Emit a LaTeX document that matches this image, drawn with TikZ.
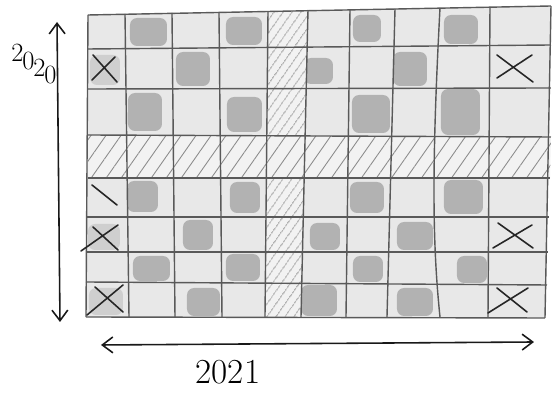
\documentclass[tikz,border=0pt]{standalone}
\usepackage{tikz}
\usetikzlibrary{arrows.meta,patterns.meta}
\begin{document}
\begin{tikzpicture}[x=0.02cm,y=-0.02cm,
  gridline/.style={black!65,line width=0.8pt},
  blob/.style={fill=black!30,rounded corners=4pt},
  paleblob/.style={fill=black!19,rounded corners=4pt},
  cross/.style={black!85,line width=0.9pt,line cap=round},
  axis/.style={black!90,line width=0.9pt,arrows={Straight Barb[length=6pt,width=9pt]-Straight Barb[length=6pt,width=9pt]}},
  every node/.style={font=\fontsize{20}{22}\selectfont}]
\useasboundingbox (0,0) rectangle (556,394);
\fill[black!9] (88,15) -- (551,6) -- (545,318) -- (86,317) -- cycle;
\fill[blob] (130,18) rectangle (167,46);
\fill[blob] (226,17) rectangle (262,45);
\fill[blob] (353,15) rectangle (381,42);
\fill[blob] (444,15) rectangle (478,44);
\fill[paleblob] (90,55) rectangle (120,85);
\fill[blob] (176,52) rectangle (210,86);
\fill[blob] (304,58) rectangle (333,84);
\fill[blob] (393,52) rectangle (427,86);
\fill[blob] (128,93) rectangle (162,131);
\fill[blob] (227,97) rectangle (262,132);
\fill[blob] (352,95) rectangle (390,133);
\fill[blob] (441,89) rectangle (480,135);
\fill[blob] (127,181) rectangle (158,212);
\fill[blob] (230,182) rectangle (260,213);
\fill[blob] (350,182) rectangle (384,213);
\fill[blob] (444,180) rectangle (483,214);
\fill[paleblob] (88,224) rectangle (120,250);
\fill[blob] (183,220) rectangle (213,250);
\fill[blob] (310,223) rectangle (340,250);
\fill[blob] (397,222) rectangle (433,250);
\fill[blob] (133,256) rectangle (170,281);
\fill[blob] (226,254) rectangle (260,281);
\fill[blob] (353,256) rectangle (383,282);
\fill[blob] (457,256) rectangle (487,283);
\fill[paleblob] (89,288) rectangle (123,315);
\fill[blob] (187,288) rectangle (220,316);
\fill[blob] (301,285) rectangle (337,316);
\fill[blob] (397,288) rectangle (433,316);
\fill[black!5] (268,12) -- (308,10) -- (301,317) -- (265,317) -- cycle;
\fill[pattern={Lines[angle=55,distance=4pt,line width=0.5pt]},pattern color=black!45] (268,12) -- (308,10) -- (301,317) -- (265,317) -- cycle;
\fill[black!5] (88,135) -- (551,137) -- (550,178) -- (88,178) -- cycle;
\fill[pattern={Lines[angle=55,distance=7pt,line width=0.5pt]},pattern color=black!45] (88,135) -- (551,137) -- (550,178) -- (88,178) -- cycle;
\draw[gridline] (88,15) -- (551,6);
\draw[gridline] (88,49) -- (551,45);
\draw[gridline] (88,89) -- (551,88);
\draw[gridline] (88,135) -- (551,137);
\draw[gridline] (88,178) -- (550,178);
\draw[gridline] (87,217) -- (549,217);
\draw[gridline] (87,252) -- (548,252);
\draw[gridline] (86,282) -- (547,285);
\draw[gridline] (86,317) -- (545,318);
\draw[gridline] (88,15) -- (86,317);
\draw[gridline] (125,14) -- (129,317);
\draw[gridline] (172,13) -- (175,317);
\draw[gridline] (219,13) -- (222,317);
\draw[gridline] (268,12) -- (265,317);
\draw[gridline] (308,10) -- (301,317);
\draw[gridline] (350,10) -- (346,317);
\draw[gridline] (395,9) -- (387,317);
\draw[gridline] (440,8) .. controls (432,160) and (432,240) .. (440,317);
\draw[gridline] (490,7) -- (488,317);
\draw[gridline] (551,6) -- (545,318);
\draw[cross] (93,55) -- (117,82) (92,80) -- (115,57);
\draw[cross] (497,55) -- (533,82) (497,78) -- (532,55);
\draw[cross] (92,185) -- (117,205);
\draw[cross] (81,251) -- (118,225) (93,227) -- (118,250);
\draw[cross] (87,315) -- (123,285) (95,287) -- (123,312);
\draw[cross] (493,248) -- (532,225) (498,223) -- (533,248);
\draw[cross] (488,313) -- (528,288) (497,288) -- (527,312);
\coordinate (vtop) at (57,22);
\coordinate (vbot) at (60,322);
\coordinate (hleft) at (101,345);
\coordinate (hright) at (534,342);
\draw[axis] (vtop) -- (vbot);
\draw[axis] (hleft) -- (hright);
\node[anchor=base west,inner sep=0pt,font=\fontsize{15}{17}\selectfont] (vlabel) at (11,62) {2\kern-0.6pt\raisebox{-4pt}{0}\kern-0.6pt\raisebox{-8pt}{2}\kern-0.6pt\raisebox{-12pt}{0}};
\node (hlabel) at (228,372) {2021};
\end{tikzpicture}
\end{document}
